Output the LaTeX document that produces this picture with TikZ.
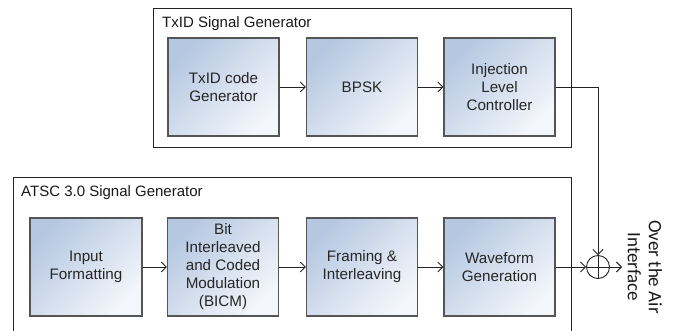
\documentclass[tikz,border=0pt]{standalone}
\usepackage{fontspec}
\setmainfont{Liberation Sans}
\newfontfamily\airfont{Carlito}
\usetikzlibrary{arrows.meta,shapes.geometric}
\definecolor{boxtl}{RGB}{182,200,225}
\definecolor{boxbr}{RGB}{243,246,251}
\definecolor{boxedge}{RGB}{85,85,85}
\definecolor{linec}{RGB}{35,35,35}
\tikzset{
  blockbox/.style={draw=boxedge, line width=1.1pt, minimum width=111pt, minimum height=98pt,
    inner sep=0pt, align=center, top color=boxtl, bottom color=boxbr, shading angle=45,
    font=\fontsize{15.2}{18}\selectfont, text=black!85},
  groupbox/.style={draw=linec, line width=0.9pt},
  grouptitle/.style={anchor=west, inner sep=0pt, font=\fontsize{15}{18}\selectfont, text=black!90},
  flow/.style={draw=linec, line width=0.9pt, -{Straight Barb[length=5pt,width=10pt]}},
  plain/.style={draw=linec, line width=0.9pt},
  sumnode/.style={circle, draw=linec, line width=0.9pt, minimum size=23pt, inner sep=0pt}
}
\begin{document}
\begin{tikzpicture}[x=1pt,y=-1pt]
\useasboundingbox (0,0) rectangle (674,331);
% group boxes
\draw[groupbox] (153,8) rectangle (571,147);
\node[grouptitle] (ttitle) at (162,24) {TxID Signal Generator};
\draw[groupbox] (13,331) |- (571,177) -- (571,331);
\node[grouptitle] (atitle) at (21,193) {ATSC 3.0 Signal Generator};
% top chain
\node[blockbox] (txid) at (223.5,87) {TxID code\\Generator};
\node[blockbox] (bpsk) at (362,87) {BPSK};
\node[blockbox] (inj) at (499.5,87) {Injection\\Level\\Controller};
% bottom chain
\node[blockbox, minimum width=112pt] (inp) at (86,267) {Input\\Formatting};
\node[blockbox] (bicm) at (223,267) {Bit\\Interleaved\\and Coded\\Modulation\\(BICM)};
\node[blockbox] (frm) at (362,267) {Framing \&\\Interleaving};
\node[blockbox] (wav) at (499.5,267) {Waveform\\Generation};
% sum
\node[sumnode] (sum) at (598,267) {};
\coordinate (out) at (622,267);
\node[rotate=-90, align=center, font=\airfont\fontsize{19}{21}\selectfont, text=black!90] (air) at (645,267) {Over the Air\\Interface};
% connectors
\draw[flow] (txid.east) -- (bpsk.west);
\draw[flow] (bpsk.east) -- (inj.west);
\draw[flow] (inj.east) -| (sum.north);
\draw[flow] (inp.east) -- (bicm.west);
\draw[flow] (bicm.east) -- (frm.west);
\draw[flow] (frm.east) -- (wav.west);
\draw[flow] (wav.east) -- (sum.west);
\draw[flow] (sum.east) -- (out);
\draw[plain] (sum.north) -- (sum.south);
\draw[plain] (sum.west) -- (sum.east);
\end{tikzpicture}
\end{document}
